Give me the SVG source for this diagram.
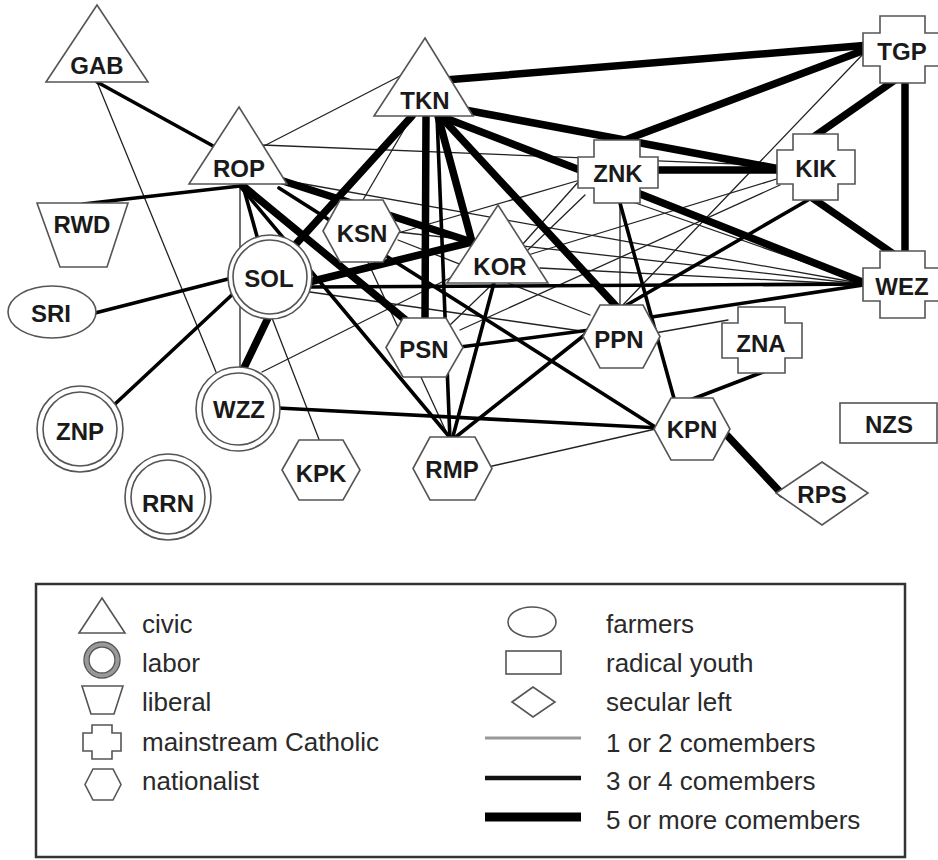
<svg xmlns="http://www.w3.org/2000/svg" width="938" height="860" viewBox="0 0 938 860">
<style>
.n{fill:#fff;stroke:#555;stroke-width:1.6}
.lb{font-family:"Liberation Sans",Arial,sans-serif;font-weight:bold;font-size:24px;fill:#1a1a1a;text-anchor:middle}
.lg{font-family:"Liberation Sans",Arial,sans-serif;font-size:26px;fill:#2a2a2a}
.t{stroke:#222;stroke-width:1.3;fill:none}
.m{stroke:#000;stroke-width:3.6;fill:none}
.k{stroke:#000;stroke-width:7.5;fill:none}
</style>
<rect width="938" height="860" fill="#fff"/>
<g id="connectors" stroke-linecap="round">
<line class="t" x1="97" y1="82" x2="216" y2="372"/>
<line class="t" x1="262" y1="147" x2="400" y2="76"/>
<line class="t" x1="262" y1="145" x2="785" y2="166"/>
<line class="t" x1="240" y1="186" x2="240" y2="370"/>
<line class="t" x1="272" y1="318" x2="320" y2="442"/>
<line class="t" x1="262" y1="372" x2="470" y2="268"/>
<line class="t" x1="412" y1="116" x2="360" y2="205"/>
<line class="t" x1="398" y1="233" x2="580" y2="180"/>
<line class="t" x1="522" y1="245" x2="580" y2="180"/>
<line class="t" x1="620" y1="200" x2="620" y2="308"/>
<line class="t" x1="627" y1="200" x2="870" y2="285"/>
<line class="t" x1="865" y1="52" x2="620" y2="308"/>
<line class="t" x1="528" y1="255" x2="780" y2="178"/>
<line class="t" x1="282" y1="180" x2="870" y2="285"/>
<line class="t" x1="398" y1="232" x2="870" y2="285"/>
<line class="t" x1="540" y1="268" x2="870" y2="285"/>
<line class="t" x1="310" y1="292" x2="588" y2="332"/>
<line class="t" x1="655" y1="333" x2="728" y2="320"/>
<line class="t" x1="488" y1="467" x2="660" y2="428"/>
<line class="t" x1="366" y1="258" x2="450" y2="440"/>
<line class="t" x1="450" y1="325" x2="585" y2="195"/>
<line class="t" x1="460" y1="330" x2="780" y2="185"/>
<line class="t" x1="398" y1="240" x2="590" y2="315"/>
<line class="m" x1="97" y1="82" x2="215" y2="147"/>
<line class="m" x1="83" y1="204" x2="240" y2="186"/>
<line class="m" x1="243" y1="186" x2="258" y2="240"/>
<line class="m" x1="240" y1="186" x2="452" y2="440"/>
<line class="m" x1="279" y1="188" x2="660" y2="430"/>
<line class="m" x1="95" y1="313" x2="232" y2="278"/>
<line class="m" x1="115" y1="404" x2="235" y2="292"/>
<line class="m" x1="310" y1="287" x2="870" y2="284"/>
<line class="m" x1="278" y1="408" x2="660" y2="428"/>
<line class="m" x1="494" y1="283" x2="452" y2="440"/>
<line class="m" x1="437" y1="116" x2="450" y2="440"/>
<line class="m" x1="587" y1="333" x2="452" y2="440"/>
<line class="m" x1="620" y1="203" x2="675" y2="402"/>
<line class="m" x1="763" y1="372" x2="690" y2="400"/>
<line class="m" x1="460" y1="347" x2="590" y2="330"/>
<line class="m" x1="645" y1="318" x2="870" y2="284"/>
<line class="m" x1="808" y1="200" x2="625" y2="306"/>
<line class="k" x1="445" y1="80" x2="870" y2="45"/>
<line class="k" x1="465" y1="110" x2="785" y2="170"/>
<line class="k" x1="440" y1="116" x2="585" y2="172" stroke-width="9"/>
<line class="k" x1="625" y1="140" x2="870" y2="48"/>
<line class="k" x1="650" y1="170" x2="785" y2="170" stroke-width="9"/>
<line class="k" x1="895" y1="80" x2="812" y2="138"/>
<line class="k" x1="905" y1="80" x2="905" y2="255" stroke-width="8"/>
<line class="k" x1="808" y1="195" x2="895" y2="255"/>
<line class="k" x1="635" y1="192" x2="870" y2="285" stroke-width="8"/>
<line class="k" x1="412" y1="116" x2="295" y2="245"/>
<line class="k" x1="426" y1="116" x2="425" y2="320"/>
<line class="k" x1="438" y1="116" x2="472" y2="242"/>
<line class="k" x1="442" y1="118" x2="616" y2="306"/>
<line class="k" x1="280" y1="180" x2="472" y2="242"/>
<line class="k" x1="243" y1="186" x2="408" y2="322"/>
<line class="k" x1="305" y1="283" x2="472" y2="242"/>
<line class="k" x1="268" y1="318" x2="243" y2="370" stroke-width="8"/>
<line class="k" x1="722" y1="430" x2="782" y2="494"/>
</g>
<g id="GAB"><polygon class="n" points="97,5 148,82 46,82"/><text class="lb" x="97" y="74">GAB</text></g>
<g id="ROP"><polygon class="n" points="239,107 287,184 189,184"/><text class="lb" x="239" y="177">ROP</text></g>
<g id="TKN"><polygon class="n" points="425,38 473,116 374,116"/><text class="lb" x="425" y="109">TKN</text></g>
<g id="KOR"><polygon class="n" points="498,205 548,283 447,283"/><text class="lb" x="500" y="275">KOR</text></g>
<g id="RWD"><polygon class="n" points="37,203 128,203 107,267 60,267"/><text class="lb" x="82" y="233">RWD</text></g>
<g id="TGP"><polygon class="n" points="880,16 925,16 925,33 942,33 942,66 925,66 925,83 880,83 880,66 863,66 863,33 880,33"/><text class="lb" x="902" y="60">TGP</text></g>
<g id="KIK"><polygon class="n" points="793,134 838,134 838,150 855,150 855,184 838,184 838,200 793,200 793,184 777,184 777,150 793,150"/><text class="lb" x="816" y="177">KIK</text></g>
<g id="WEZ"><polygon class="n" points="880,251 925,251 925,268 942,268 942,301 925,301 925,318 880,318 880,301 863,301 863,268 880,268"/><text class="lb" x="902" y="295">WEZ</text></g>
<g id="ZNK"><polygon class="n" points="594,140 640,140 640,157 658,157 658,188 640,188 640,203 594,203 594,188 578,188 578,157 594,157"/><text class="lb" x="618" y="182">ZNK</text></g>
<g id="ZNA"><polygon class="n" points="738,307 785,307 785,323 802,323 802,358 785,358 785,373 738,373 738,358 722,358 722,323 738,323"/><text class="lb" x="761" y="352">ZNA</text></g>
<g id="NZS"><rect class="n" x="840" y="403" width="97" height="40"/><text class="lb" x="889" y="433">NZS</text></g>
<g id="KSN"><polygon class="n" points="323,231 340,200 383,200 400,231 383,262 340,262"/><text class="lb" x="362" y="242">KSN</text></g>
<g id="PSN"><polygon class="n" points="386,347.5 403,318 446,318 463,347.5 446,377 403,377"/><text class="lb" x="424" y="358">PSN</text></g>
<g id="PPN"><polygon class="n" points="583,336.5 600,305 643,305 660,336.5 643,368 600,368"/><text class="lb" x="619" y="348">PPN</text></g>
<g id="KPN"><polygon class="n" points="654,429 671,398 713,398 730,429 713,460 671,460"/><text class="lb" x="692" y="438">KPN</text></g>
<g id="KPK"><polygon class="n" points="282,470 299,440 343,440 360,470 343,500 299,500"/><text class="lb" x="321" y="482">KPK</text></g>
<g id="RMP"><polygon class="n" points="413,468.5 430,437 475,437 492,468.5 475,500 430,500"/><text class="lb" x="452" y="478">RMP</text></g>
<g id="RPS"><polygon class="n" points="822,462 868,493 822,525 776,493"/><text class="lb" x="822" y="503">RPS</text></g>
<g id="SRI"><ellipse class="n" cx="52" cy="312" rx="44" ry="26"/><text class="lb" x="51" y="322">SRI</text></g>
<g id="SOL"><circle class="n" cx="270" cy="277" r="42" stroke="#888" stroke-width="3"/><circle fill="none" stroke="#555" stroke-width="1.6" cx="270" cy="277" r="37"/><text class="lb" x="269" y="287">SOL</text></g>
<g id="WZZ"><circle class="n" cx="238" cy="409" r="42"/><circle fill="none" stroke="#555" stroke-width="1.6" cx="238" cy="409" r="36"/><text class="lb" x="239" y="418">WZZ</text></g>
<g id="ZNP"><circle class="n" cx="80" cy="429" r="43"/><circle fill="none" stroke="#555" stroke-width="1.6" cx="80" cy="429" r="37"/><text class="lb" x="80" y="440">ZNP</text></g>
<g id="RRN"><circle class="n" cx="168" cy="497" r="43"/><circle fill="none" stroke="#555" stroke-width="1.6" cx="168" cy="497" r="37"/><text class="lb" x="168" y="512">RRN</text></g>
<g id="legend">
<rect x="36" y="584" width="869" height="273" fill="#fff" stroke="#333" stroke-width="2.5"/>
<polygon class="n" points="102,598 125,633 79,633"/>
<circle fill="none" stroke="#999" stroke-width="4" cx="102" cy="660" r="15.5"/>
<circle fill="none" stroke="#555" stroke-width="1.4" cx="102" cy="660" r="18"/>
<circle fill="none" stroke="#555" stroke-width="1.4" cx="102" cy="660" r="13"/>
<polygon class="n" points="82,686 123,686 114,714 91,714"/>
<polygon class="n" points="92,725 112,725 112,733 121,733 121,751 112,751 112,759 92,759 92,751 83,751 83,733 92,733"/>
<polygon class="n" points="85,784.5 93,769 113,769 121,784.5 113,800 93,800"/>
<text class="lg" x="142" y="633">civic</text>
<text class="lg" x="142" y="672">labor</text>
<text class="lg" x="142" y="711">liberal</text>
<text class="lg" x="142" y="751">mainstream Catholic</text>
<text class="lg" x="142" y="790">nationalist</text>
<ellipse class="n" cx="532" cy="622" rx="24" ry="15"/>
<rect class="n" x="506" y="651" width="55" height="23"/>
<polygon class="n" points="512,702 533,687 555,702 533,717"/>
<line x1="485" y1="738" x2="581" y2="738" stroke="#999" stroke-width="3"/>
<line x1="485" y1="778" x2="581" y2="778" stroke="#111" stroke-width="4.5"/>
<line x1="485" y1="817" x2="581" y2="817" stroke="#000" stroke-width="9"/>
<text class="lg" x="606" y="633">farmers</text>
<text class="lg" x="606" y="672">radical youth</text>
<text class="lg" x="606" y="711">secular left</text>
<text class="lg" x="606" y="752">1 or 2 comembers</text>
<text class="lg" x="606" y="790">3 or 4 comembers</text>
<text class="lg" x="606" y="829">5 or more comembers</text>
</g>
</svg>
